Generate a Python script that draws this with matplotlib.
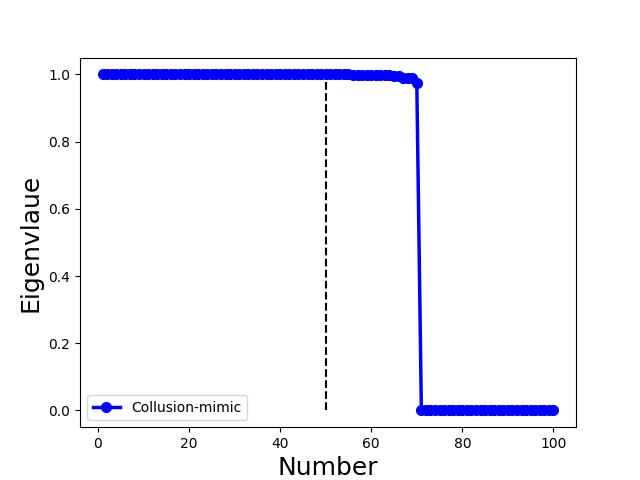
import numpy as np
import matplotlib
matplotlib.use("Agg")
import matplotlib.pyplot as plt

# eigenvalue index and values
numbers = list(range(1, 101))
eig_head = [1.0] * 55
eig_mid = [0.997, 0.997, 0.997, 0.997, 0.997, 0.997, 0.997, 0.997, 0.997,
           0.996, 0.994, 0.990, 0.989, 0.989, 0.974]
eig_tail = [0.0] * 30
eigvals = eig_head + eig_mid + eig_tail

cut_x = 50
cut_top = 0.98

fig, ax = plt.subplots(figsize=(6.4, 4.8), dpi=100)
ax.plot(numbers, eigvals, "b-o", linewidth=2.5, markersize=7, label="Collusion-mimic")
ax.vlines(cut_x, 0, cut_top, colors="k", linestyles="dashed", linewidth=1.5)
ax.set_xlabel("Number", fontsize=18)
ax.set_ylabel("Eigenvlaue", fontsize=18)
ax.legend(loc="lower left")
fig.savefig("out.png")
